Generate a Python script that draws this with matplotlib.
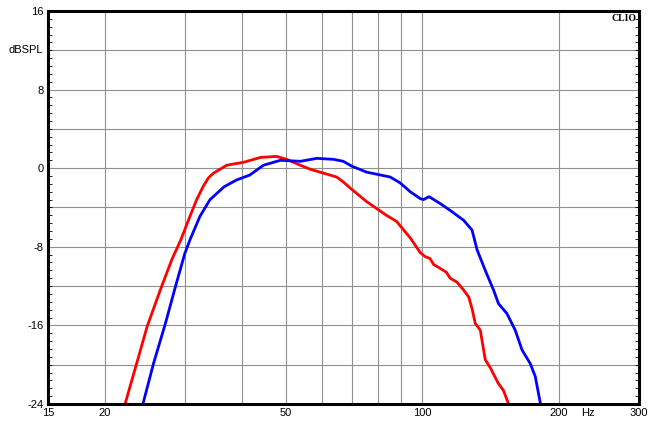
import numpy as np
import matplotlib.pyplot as plt
from matplotlib.ticker import FixedLocator, NullFormatter

# red curve (Hz, dBSPL)
red_freq = [22.0, 22.2, 23.5, 24.8, 26.5, 28.1, 29.4, 30.8, 31.8, 32.9, 33.8, 34.7,
            35.9, 37.1, 40.4, 44.1, 47.8, 50.3, 53.9, 56.6, 61.6, 64.8, 67.0, 69.3,
            75.4, 83.4, 87.7, 94.1, 99.0, 101.5, 104.0, 105.9, 109.5, 113.0, 115.2,
            119.2, 123.3, 126.5, 128.7, 130.8, 134.2, 137.6, 141.1, 147.0, 150.8,
            154.6, 156.2]
red_db = [-24.6, -23.9, -19.9, -16.1, -12.4, -9.3, -7.3, -4.9, -3.3, -1.9, -1.0, -0.5,
          -0.1, 0.3, 0.6, 1.1, 1.2, 0.9, 0.3, -0.1, -0.6, -0.9, -1.4, -2.0,
          -3.4, -4.8, -5.4, -7.1, -8.6, -9.0, -9.2, -9.8, -10.2, -10.6, -11.2,
          -11.6, -12.4, -13.1, -14.3, -15.8, -16.5, -19.5, -20.3, -21.9, -22.6,
          -23.9, -24.6]

# blue curve (Hz, dBSPL)
blue_freq = [24.1, 24.3, 25.6, 27.2, 28.6, 30.0, 30.8, 32.4, 34.1, 36.6, 39.0, 41.7,
             44.7, 48.7, 53.9, 58.6, 63.8, 67.0, 70.0, 75.4, 85.0, 89.4, 94.1,
             99.0, 100.6, 103.5, 109.5, 115.2, 123.3, 128.7, 132.0, 137.6, 143.5,
             147.2, 153.6, 160.2, 165.8, 172.9, 177.3, 181.9, 182.6]
blue_db = [-24.6, -23.9, -19.9, -15.8, -12.1, -8.7, -7.3, -4.9, -3.2, -1.9, -1.2, -0.7,
           0.3, 0.8, 0.7, 1.0, 0.9, 0.7, 0.2, -0.4, -0.9, -1.5, -2.4,
           -3.1, -3.2, -2.9, -3.6, -4.3, -5.3, -6.3, -8.3, -10.4, -12.4,
           -13.8, -14.8, -16.5, -18.5, -19.9, -21.2, -23.9, -24.6]

x_ticks = [15, 20, 50, 100, 200, 300]
x_grid = [20, 30, 40, 50, 60, 70, 80, 90, 100, 200]
y_ticks = [16, 8, 0, -8, -16, -24]

fig = plt.figure(figsize=(6.55, 4.23), dpi=100)
ax = fig.add_axes([0.0733, 0.045, 0.9023, 0.929])
ax.set_xscale('log')
ax.set_xlim(15, 300)
ax.set_ylim(-24, 16)

for f in x_grid:
    ax.axvline(f, color='#909090', linewidth=0.8, zorder=1)
for v in np.arange(-20, 16, 4):
    ax.axhline(v, color='#909090', linewidth=0.8, zorder=1)

ax.plot(red_freq, red_db, color='#ff0000', linewidth=2.0, zorder=3,
        solid_joinstyle='round')
ax.plot(blue_freq, blue_db, color='#0000ff', linewidth=2.0, zorder=3,
        solid_joinstyle='round')

font = dict(family='Liberation Sans', fontsize=8)
# "Hz" sits in the tick label row at about 232 Hz
ax.xaxis.set_major_locator(FixedLocator(x_ticks + [232]))
ax.xaxis.set_minor_locator(FixedLocator([]))
ax.xaxis.set_minor_formatter(NullFormatter())
ax.set_xticklabels([str(t) for t in x_ticks] + ['Hz'], **font)
ax.set_yticks(y_ticks)
ax.set_yticklabels([str(t) for t in y_ticks], **font)
ax.yaxis.set_minor_locator(FixedLocator(np.arange(-24, 16.01, 0.8)))
ax.tick_params(axis='both', which='major', length=0, pad=3)
ax.tick_params(axis='y', which='minor', direction='in', length=3, width=0.6,
               left=True, right=True)

ax.text(-0.008, 12, 'dBSPL', transform=ax.get_yaxis_transform(),
        ha='right', va='center', **font)
ax.text(0.995, 0.992, 'CLIO', transform=ax.transAxes, ha='right', va='top',
        family='Liberation Serif', fontweight='bold', fontsize=7)

for s in ax.spines.values():
    s.set_linewidth(2.2)
    s.set_zorder(4)

fig.savefig('out.png', dpi=100)
